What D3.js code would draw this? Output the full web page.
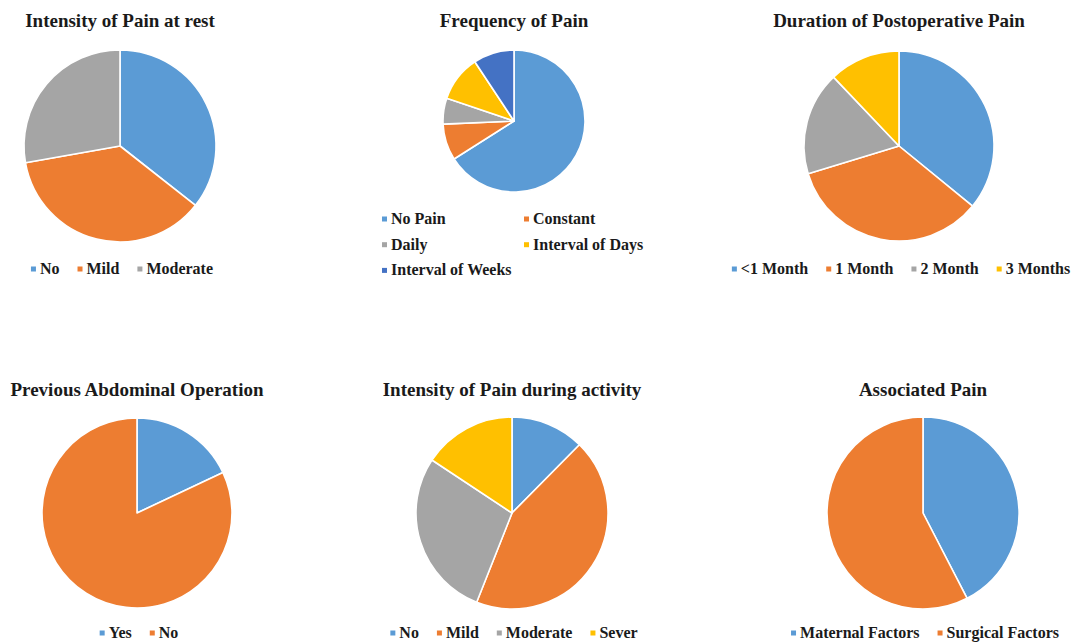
<!DOCTYPE html>
<html>
<head>
<meta charset="utf-8">
<script src="https://cdn.jsdelivr.net/npm/d3@7"></script>
<style>
  html, body { margin: 0; padding: 0; background: #ffffff; }
  svg { display: block; }
  text { font-family: "Liberation Serif", "Times New Roman", serif; font-weight: bold; fill: #1a1a1a; }
</style>
</head>
<body>
<svg id="chart" width="1076" height="643"></svg>
<script>
// Survey results: six pie charts (percent of respondents)
const restLabels = ["No", "Mild", "Moderate"];
const restValues = [35.6, 36.6, 27.8];

const frequencyLabels = ["No Pain", "Constant", "Daily", "Interval of Days", "Interval of Weeks"];
const frequencyValues = [66.0, 8.3, 5.9, 10.5, 9.3];

const durationLabels = ["<1 Month", "1 Month", "2 Month", "3 Months"];
const durationValues = [35.9, 34.4, 17.6, 12.1];

const previousOpLabels = ["Yes", "No"];
const previousOpValues = [18, 82];

const activityLabels = ["No", "Mild", "Moderate", "Sever"];
const activityValues = [12.4, 43.6, 28.3, 15.7];

const associatedLabels = ["Maternal Factors", "Surgical Factors"];
const associatedValues = [42.4, 57.6];

const palette = ["#5B9BD5", "#ED7D31", "#A5A5A5", "#FFC000", "#4472C4"];

// Panel layout: pie centre, radius, title and legend baselines
const panels = [
  { title: "Intensity of Pain at rest", labels: restLabels, values: restValues,
    cx: 120, cy: 146, r: 96, titleY: 27, legendY: 274 },
  { title: "Frequency of Pain", labels: frequencyLabels, values: frequencyValues,
    cx: 514, cy: 121, r: 71, titleY: 27, legendY: 224, columns: 2, colWidth: 142, rowStep: 25.7, gridLeft: -132 },
  { title: "Duration of Postoperative Pain", labels: durationLabels, values: durationValues,
    cx: 899, cy: 146, r: 95, titleY: 27, legendY: 274 },
  { title: "Previous Abdominal Operation", labels: previousOpLabels, values: previousOpValues,
    cx: 137, cy: 513, r: 95, titleY: 396, legendY: 638 },
  { title: "Intensity of Pain during activity", labels: activityLabels, values: activityValues,
    cx: 512, cy: 513, r: 96, titleY: 396, legendY: 638 },
  { title: "Associated Pain", labels: associatedLabels, values: associatedValues,
    cx: 923, cy: 513, r: 96, titleY: 396, legendY: 638 }
];

const svg = d3.select("#chart");
const markerSize = 5;
const markerGap = 4;
const itemGap = 18;

panels.forEach(p => {
  const g = svg.append("g");
  const color = d3.scaleOrdinal().domain(p.labels).range(palette);
  const data = p.labels.map((label, i) => ({ label, value: p.values[i] }));

  // title
  g.append("text")
    .attr("x", p.cx)
    .attr("y", p.titleY)
    .attr("text-anchor", "middle")
    .style("font-size", "19px")
    .text(p.title);

  // pie, clockwise from 12 o'clock
  const pie = d3.pie().sort(null).value(d => d.value);
  const arc = d3.arc().innerRadius(0).outerRadius(p.r);
  g.append("g")
    .attr("transform", `translate(${p.cx},${p.cy})`)
    .selectAll("path")
    .data(pie(data))
    .join("path")
    .attr("d", arc)
    .attr("fill", d => color(d.data.label))
    .attr("stroke", "#ffffff")
    .attr("stroke-width", 1.6)
    .attr("stroke-linejoin", "round");

  // legend
  const lg = g.append("g");
  const items = lg.selectAll("g.item")
    .data(data)
    .join("g")
    .attr("class", "item");
  items.append("rect")
    .attr("width", markerSize)
    .attr("height", markerSize)
    .attr("y", -markerSize / 2 - 5)
    .attr("fill", d => color(d.label));
  items.append("text")
    .attr("x", markerSize + markerGap)
    .attr("y", 0)
    .style("font-size", "16px")
    .text(d => d.label);

  if (p.columns) {
    items.attr("transform", (d, i) => {
      const col = i % p.columns, row = Math.floor(i / p.columns);
      return `translate(${p.cx + p.gridLeft + col * p.colWidth},${p.legendY + row * p.rowStep})`;
    });
  } else {
    const widths = [];
    items.each(function () {
      widths.push(markerSize + markerGap + d3.select(this).select("text").node().getComputedTextLength());
    });
    const total = d3.sum(widths) + itemGap * (widths.length - 1);
    let x = p.cx + 2 - total / 2;
    items.attr("transform", (d, i) => {
      const t = `translate(${x},${p.legendY})`;
      x += widths[i] + itemGap;
      return t;
    });
  }
});
</script>
</body>
</html>
